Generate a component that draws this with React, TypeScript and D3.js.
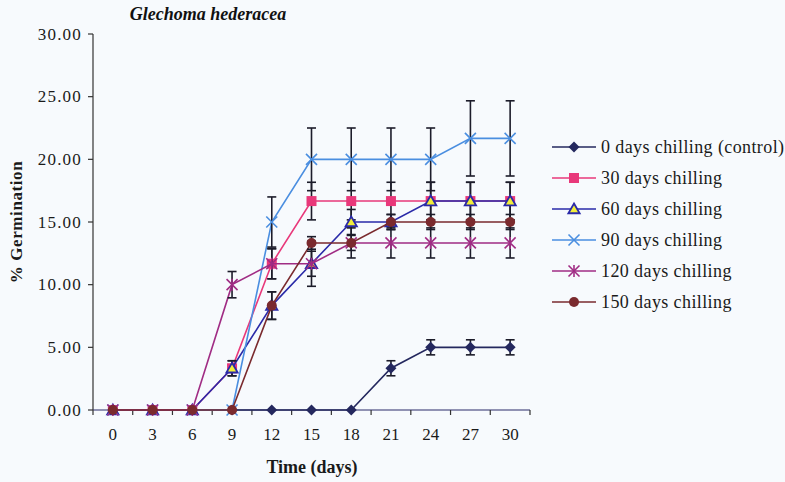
import * as d3 from 'd3';

// Germination over time for Glechoma hederacea, by chilling treatment
const days = [0, 3, 6, 9, 12, 15, 18, 21, 24, 27, 30];
const yTicks = [0, 5, 10, 15, 20, 25, 30];

const seriesNames = [
  '0 days chilling (control)',
  '30 days chilling',
  '60 days chilling',
  '90 days chilling',
  '120 days chilling',
  '150 days chilling',
];

const control = [0, 0, 0, 0, 0, 0, 0, 3.33, 5, 5, 5];
const chill30 = [0, 0, 0, 3.33, 11.67, 16.67, 16.67, 16.67, 16.67, 16.67, 16.67];
const chill60 = [0, 0, 0, 3.33, 8.33, 11.67, 15, 15, 16.67, 16.67, 16.67];
const chill90 = [0, 0, 0, 0, 15, 20, 20, 20, 20, 21.67, 21.67];
const chill120 = [0, 0, 0, 10, 11.67, 11.67, 13.33, 13.33, 13.33, 13.33, 13.33];
const chill150 = [0, 0, 0, 0, 8.33, 13.33, 13.33, 15, 15, 15, 15];

const errControl = [0, 0, 0, 0, 0, 0, 0, 0.6, 0.6, 0.6, 0.6];
const err30 = [0, 0, 0, 0.6, 1.2, 1.5, 1.5, 1.5, 1.5, 1.5, 1.5];
const err60 = [0, 0, 0, 0.6, 1.1, 1.8, 1.0, 0.6, 1.5, 1.5, 1.5];
const err90 = [0, 0, 0, 0, 2, 2.5, 2.5, 2.5, 2.5, 3, 3];
const err120 = [0, 0, 0, 1.05, 1.2, 1.0, 1.2, 1.2, 1.2, 1.2, 1.2];
const err150 = [0, 0, 0, 0, 1.1, 0.5, 0.6, 0.6, 0.6, 0.6, 0.6];

const values = [control, chill30, chill60, chill90, chill120, chill150];
const errors = [errControl, err30, err60, err90, err120, err150];

const lineColors = ['#24285e', '#e8387a', '#2a2aa8', '#4a8ee0', '#a02c84', '#7a2a2e'];
const markerKinds = ['diamond', 'square', 'triangle', 'x', 'star', 'circle'];

const FONT = "'Liberation Serif', 'DejaVu Serif', Tinos, 'Times New Roman', serif";
const W = 785;
const H = 482;

function Marker({ kind, color, cx, cy }: { kind: string; color: string; cx: number; cy: number }) {
  const t = `translate(${cx},${cy})`;
  if (kind === 'diamond') {
    return <path transform={t} d="M0,-5.5L5.5,0L0,5.5L-5.5,0Z" fill={color} />;
  }
  if (kind === 'square') {
    return <rect x={cx - 5} y={cy - 5} width={10} height={10} fill={color} />;
  }
  if (kind === 'triangle') {
    return <path transform={`translate(${cx},${cy + 1})`} d={d3.symbol(d3.symbolTriangle, 55)() || ''} fill="#f2ee3a" stroke={color} strokeWidth={1.8} />;
  }
  if (kind === 'x') {
    return (
      <g transform={t} stroke={color} strokeWidth={1.6}>
        <line x1={-5.5} y1={-5.5} x2={5.5} y2={5.5} />
        <line x1={-5.5} y1={5.5} x2={5.5} y2={-5.5} />
      </g>
    );
  }
  if (kind === 'star') {
    return (
      <g transform={t} stroke={color} strokeWidth={1.6}>
        <line x1={-5.5} y1={-5.5} x2={5.5} y2={5.5} />
        <line x1={-5.5} y1={5.5} x2={5.5} y2={-5.5} />
        <line x1={0} y1={-6} x2={0} y2={6} />
      </g>
    );
  }
  return <circle cx={cx} cy={cy} r={5} fill={color} />;
}

export default function App() {
  const x = d3.scaleBand<string>().domain(days.map(String)).range([93, 530]).padding(0);
  const y = d3.scaleLinear().domain([0, 30]).range([410, 34]);
  const cx = (i: number) => (x(String(days[i])) || 0) + x.bandwidth() / 2;

  const line = d3
    .line<number>()
    .x((_, i) => cx(i))
    .y((d) => y(d));

  const boundaries = days.map((d) => x(String(d)) || 0).concat([x.range()[1]]);

  return (
    <svg width={W} height={H} style={{ position: 'fixed', left: 0, top: 0, background: '#f7fafd', fontFamily: FONT }}>
      <rect width={W} height={H} fill="#f7fafd" />

      <text x={208} y={20} textAnchor="middle" fontWeight="bold" fontStyle="italic" fontSize={18} fill="#111">
        Glechoma hederacea
      </text>

      {/* y axis */}
      <line x1={93} y1={y(30)} x2={93} y2={y(0)} stroke="#333" strokeWidth={1.2} />
      {yTicks.map((t) => (
        <g key={t}>
          <line x1={88} x2={93} y1={y(t)} y2={y(t)} stroke="#333" strokeWidth={1.2} />
          <text x={82} y={y(t) + 5.5} textAnchor="end" fontSize={17} letterSpacing={1.2} fill="#1a1a1a">
            {t.toFixed(2)}
          </text>
        </g>
      ))}
      <text
        transform={`translate(22,${(y(0) + y(30)) / 2}) rotate(-90)`}
        textAnchor="middle"
        fontWeight="bold"
        fontSize={17}
        letterSpacing={0.6}
        fill="#1a1a1a"
      >
        % Germination
      </text>

      {/* x axis */}
      <line x1={x.range()[0]} x2={x.range()[1]} y1={y(0)} y2={y(0)} stroke="#2a2a6a" strokeWidth={1.2} />
      {boundaries.map((b, i) => (
        <line key={i} x1={b} x2={b} y1={y(0)} y2={y(0) + 5} stroke="#333" strokeWidth={1.2} />
      ))}
      {days.map((d, i) => (
        <text key={d} x={cx(i)} y={y(0) + 30} textAnchor="middle" fontSize={17} fill="#1a1a1a">
          {d}
        </text>
      ))}
      <text x={312} y={473} textAnchor="middle" fontWeight="bold" fontSize={18} fill="#1a1a1a">
        Time (days)
      </text>

      {/* series */}
      {values.map((vals, s) => (
        <g key={s}>
          <path d={line(vals) || ''} fill="none" stroke={lineColors[s]} strokeWidth={1.6} />
          {vals.map((v, i) => {
            const e = errors[s][i];
            if (!e) return null;
            const px = cx(i);
            return (
              <g key={i} stroke="#1c1c2a" strokeWidth={1.6}>
                <line x1={px} x2={px} y1={y(v + e)} y2={y(v - e)} />
                <line x1={px - 4.5} x2={px + 4.5} y1={y(v + e)} y2={y(v + e)} />
                <line x1={px - 4.5} x2={px + 4.5} y1={y(v - e)} y2={y(v - e)} />
              </g>
            );
          })}
          {vals.map((v, i) => (
            <Marker key={i} kind={markerKinds[s]} color={lineColors[s]} cx={cx(i)} cy={y(v)} />
          ))}
        </g>
      ))}

      {/* legend */}
      {seriesNames.map((name, s) => {
        const ly = 147 + s * 31;
        return (
          <g key={name}>
            <line x1={552} x2={596} y1={ly} y2={ly} stroke={lineColors[s]} strokeWidth={1.6} />
            <Marker kind={markerKinds[s]} color={lineColors[s]} cx={574} cy={ly} />
            <text x={601} y={ly + 6} fontSize={18} letterSpacing={0.4} fill="#1a1a1a">
              {name}
            </text>
          </g>
        );
      })}
    </svg>
  );
}
